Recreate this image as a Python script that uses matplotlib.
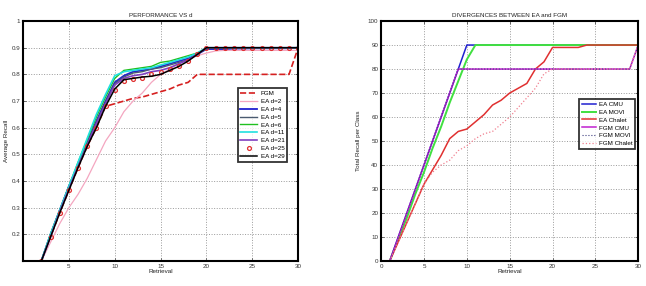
import matplotlib
matplotlib.use("Agg")
import matplotlib.pyplot as plt
import numpy as np

# ---------------- data: left panel ----------------
x_left = list(range(1, 31))
fgm = [0.02, 0.10, 0.19, 0.28, 0.365, 0.45, 0.53, 0.60, 0.68, 0.69, 0.70, 0.71, 0.715, 0.725, 0.735,
       0.745, 0.76, 0.77, 0.80, 0.80, 0.80, 0.80, 0.80, 0.80, 0.80, 0.80, 0.80, 0.80, 0.80, 0.90]
ea_d2 = [0.03, 0.10, 0.17, 0.24, 0.30, 0.35, 0.41, 0.48, 0.55, 0.60, 0.66, 0.70, 0.73, 0.77, 0.80,
         0.82, 0.84, 0.855, 0.87, 0.88, 0.888, 0.89, 0.89, 0.89, 0.89, 0.89, 0.89, 0.89, 0.89, 0.89]
ea_d4 = [0.02, 0.10, 0.20, 0.29, 0.38, 0.46, 0.545, 0.625, 0.70, 0.77, 0.795, 0.81, 0.815, 0.82, 0.83,
         0.84, 0.85, 0.86, 0.875, 0.895, 0.895, 0.895, 0.897, 0.897, 0.898, 0.898, 0.898, 0.898, 0.898, 0.90]
ea_d5 = [0.02, 0.10, 0.20, 0.29, 0.38, 0.46, 0.54, 0.62, 0.695, 0.765, 0.79, 0.805, 0.81, 0.82, 0.825,
         0.835, 0.845, 0.855, 0.875, 0.897, 0.898, 0.898, 0.898, 0.899, 0.899, 0.899, 0.899, 0.899, 0.899, 0.90]
ea_d6 = [0.02, 0.10, 0.20, 0.29, 0.38, 0.47, 0.555, 0.64, 0.715, 0.785, 0.815, 0.82, 0.825, 0.83, 0.845,
         0.85, 0.86, 0.87, 0.88, 0.90, 0.90, 0.90, 0.90, 0.90, 0.90, 0.90, 0.90, 0.90, 0.90, 0.90]
ea_d11 = [0.02, 0.10, 0.20, 0.29, 0.38, 0.47, 0.56, 0.65, 0.725, 0.795, 0.81, 0.815, 0.82, 0.825, 0.835,
          0.845, 0.855, 0.865, 0.88, 0.90, 0.90, 0.90, 0.90, 0.90, 0.90, 0.90, 0.90, 0.90, 0.90, 0.90]
ea_d21 = [0.02, 0.10, 0.19, 0.285, 0.37, 0.455, 0.535, 0.615, 0.69, 0.76, 0.785, 0.795, 0.80, 0.81, 0.815,
          0.825, 0.84, 0.855, 0.875, 0.90, 0.90, 0.90, 0.90, 0.90, 0.90, 0.90, 0.90, 0.90, 0.90, 0.90]
ea_d25 = [0.02, 0.10, 0.19, 0.28, 0.365, 0.45, 0.53, 0.60, 0.68, 0.74, 0.775, 0.783, 0.787, 0.80, 0.81,
          0.82, 0.83, 0.85, 0.875, 0.90, 0.90, 0.90, 0.90, 0.90, 0.90, 0.90, 0.90, 0.90, 0.90, 0.90]
ea_d29 = [0.02, 0.10, 0.19, 0.28, 0.365, 0.45, 0.53, 0.60, 0.68, 0.745, 0.78, 0.785, 0.79, 0.793, 0.80,
          0.815, 0.83, 0.85, 0.875, 0.90, 0.90, 0.90, 0.90, 0.90, 0.90, 0.90, 0.90, 0.90, 0.90, 0.90]

left_xticks = [5, 10, 15, 20, 25, 30]
left_yticks = [0.2, 0.3, 0.4, 0.5, 0.6, 0.7, 0.8, 0.9, 1.0]
left_yticklabels = ["0.2", "0.3", "0.4", "0.5", "0.6", "0.7", "0.8", "0.9", "1"]

# ---------------- data: right panel ----------------
x_right = list(range(1, 31))
ea_cmu = [0, 10, 20, 30, 40, 50, 60, 70, 80, 90, 90, 90, 90, 90, 90,
          90, 90, 90, 90, 90, 90, 90, 90, 90, 90, 90, 90, 90, 90, 90]
ea_movi = [0, 9, 18, 28, 37, 47, 56, 66, 75, 84, 90, 90, 90, 90, 90,
           90, 90, 90, 90, 90, 90, 90, 90, 90, 90, 90, 90, 90, 90, 90]
ea_chalet = [0, 8, 16, 24, 32, 38, 44, 51, 54, 55, 58, 61, 65, 67, 70,
             72, 74, 80, 83, 89, 89, 89, 89, 90, 90, 90, 90, 90, 90, 90]
fgm_cmu = [0, 10, 20, 30, 40, 50, 60, 70, 80, 80, 80, 80, 80, 80, 80,
           80, 80, 80, 80, 80, 80, 80, 80, 80, 80, 80, 80, 80, 80, 90]
fgm_movi = [0, 10, 20, 30, 40, 50, 60, 70, 80, 80, 80, 80, 80, 80, 80,
            80, 80, 80, 80, 80, 80, 80, 80, 80, 80, 80, 80, 80, 80, 90]
fgm_chalet = [0, 8, 16, 24, 32, 37, 40, 42, 46, 48, 51, 53, 54, 57, 60,
              64, 68, 72, 78, 80, 80, 80, 80, 80, 80, 80, 80, 80, 80, 90]

right_xticks = [0, 5, 10, 15, 20, 25, 30]
right_yticks = [0, 10, 20, 30, 40, 50, 60, 70, 80, 90, 100]

FS = 4.5
plt.rcParams['font.family'] = ['Liberation Sans', 'DejaVu Sans']

fig = plt.figure(figsize=(6.46, 2.86), dpi=100)
axL = fig.add_axes([0.0356, 0.0874, 0.426, 0.839])
axR = fig.add_axes([0.590, 0.0874, 0.398, 0.839])


def style(ax):
    for s in ax.spines.values():
        s.set_linewidth(1.5)
        s.set_color('black')
    ax.grid(True, linestyle=':', color='#9a9a9a', linewidth=0.7)
    ax.tick_params(direction='in', length=2, width=0.5, labelsize=FS, pad=2,
                   top=True, right=True, colors='#333333')
    ax.set_axisbelow(True)


# Left panel
axL.plot(x_left, fgm, '--', color='#d62020', lw=1.2, label='FGM')
axL.plot(x_left, ea_d2, '-', color='#f4a6c0', lw=0.9, label='EA d=2')
axL.plot(x_left, ea_d4, '-', color='#2020d0', lw=1.3, label='EA d=4')
axL.plot(x_left, ea_d5, '-', color='#4a5a70', lw=1.0, label='EA d=5')
axL.plot(x_left, ea_d6, '-', color='#20c020', lw=1.0, label='EA d=6')
axL.plot(x_left, ea_d11, '-', color='#20e0e0', lw=1.2, label='EA d=11')
axL.plot(x_left, ea_d21, '-', color='#8040c0', lw=1.2, label='EA d=21')
axL.plot(x_left, ea_d25, 'o', color='#e03030', mfc='none', ms=2.8, mew=0.9, label='EA d=25')
axL.plot(x_left, ea_d29, '-', color='black', lw=1.1, label='EA d=29')
axL.set_xlim(0, 30)
axL.set_ylim(0.1, 1.0)
axL.set_xticks(left_xticks)
axL.set_yticks(left_yticks)
axL.set_yticklabels(left_yticklabels)
style(axL)
axL.set_title('PERFORMANCE VS d', fontsize=FS, pad=3, color='#222222')
axL.set_xlabel('Retrieval', fontsize=FS, labelpad=0.5, color='#222222')
axL.set_ylabel('Average Recall', fontsize=FS, labelpad=2, color='#222222')
legL = axL.legend(loc='upper left', bbox_to_anchor=(0.78, 0.72), fontsize=FS,
                  frameon=True, fancybox=False, borderpad=0.4, labelspacing=0.4,
                  handlelength=2.7, handletextpad=0.6, borderaxespad=0)
legL.get_frame().set_edgecolor('black')
legL.get_frame().set_linewidth(1.3)

# Right panel
axR.plot(x_right, ea_cmu, '-', color='#2020d0', lw=1.1, label='EA CMU')
axR.plot(x_right, ea_movi, '-', color='#40e040', lw=1.4, label='EA MOVI')
axR.plot(x_right, ea_chalet, '-', color='#e03030', lw=1.1, label='EA Chalet')
axR.plot(x_right, fgm_cmu, '-', color='#c020d0', lw=1.1, label='FGM CMU')
axR.plot(x_right, fgm_movi, ':', color='#404080', lw=0.8, label='FGM MOVI')
axR.plot(x_right, fgm_chalet, ':', color='#f08090', lw=0.9, label='FGM Chalet')
axR.set_xlim(0, 30)
axR.set_ylim(0, 100)
axR.set_xticks(right_xticks)
axR.set_yticks(right_yticks)
style(axR)
axR.set_title('DIVERGENCES BETWEEN EA and FGM', fontsize=FS, pad=3, color='#222222')
axR.set_xlabel('Retrieval', fontsize=FS, labelpad=0.5, color='#222222')
axR.set_ylabel('Total Recall per Class', fontsize=FS, labelpad=5, color='#222222')
legR = axR.legend(loc='upper left', bbox_to_anchor=(0.77, 0.675), fontsize=FS,
                  frameon=True, fancybox=False, borderpad=0.4, labelspacing=0.4,
                  handlelength=2.3, handletextpad=0.5, borderaxespad=0)
legR.get_frame().set_edgecolor('black')
legR.get_frame().set_linewidth(1.3)

fig.savefig('out.png', dpi=100)
